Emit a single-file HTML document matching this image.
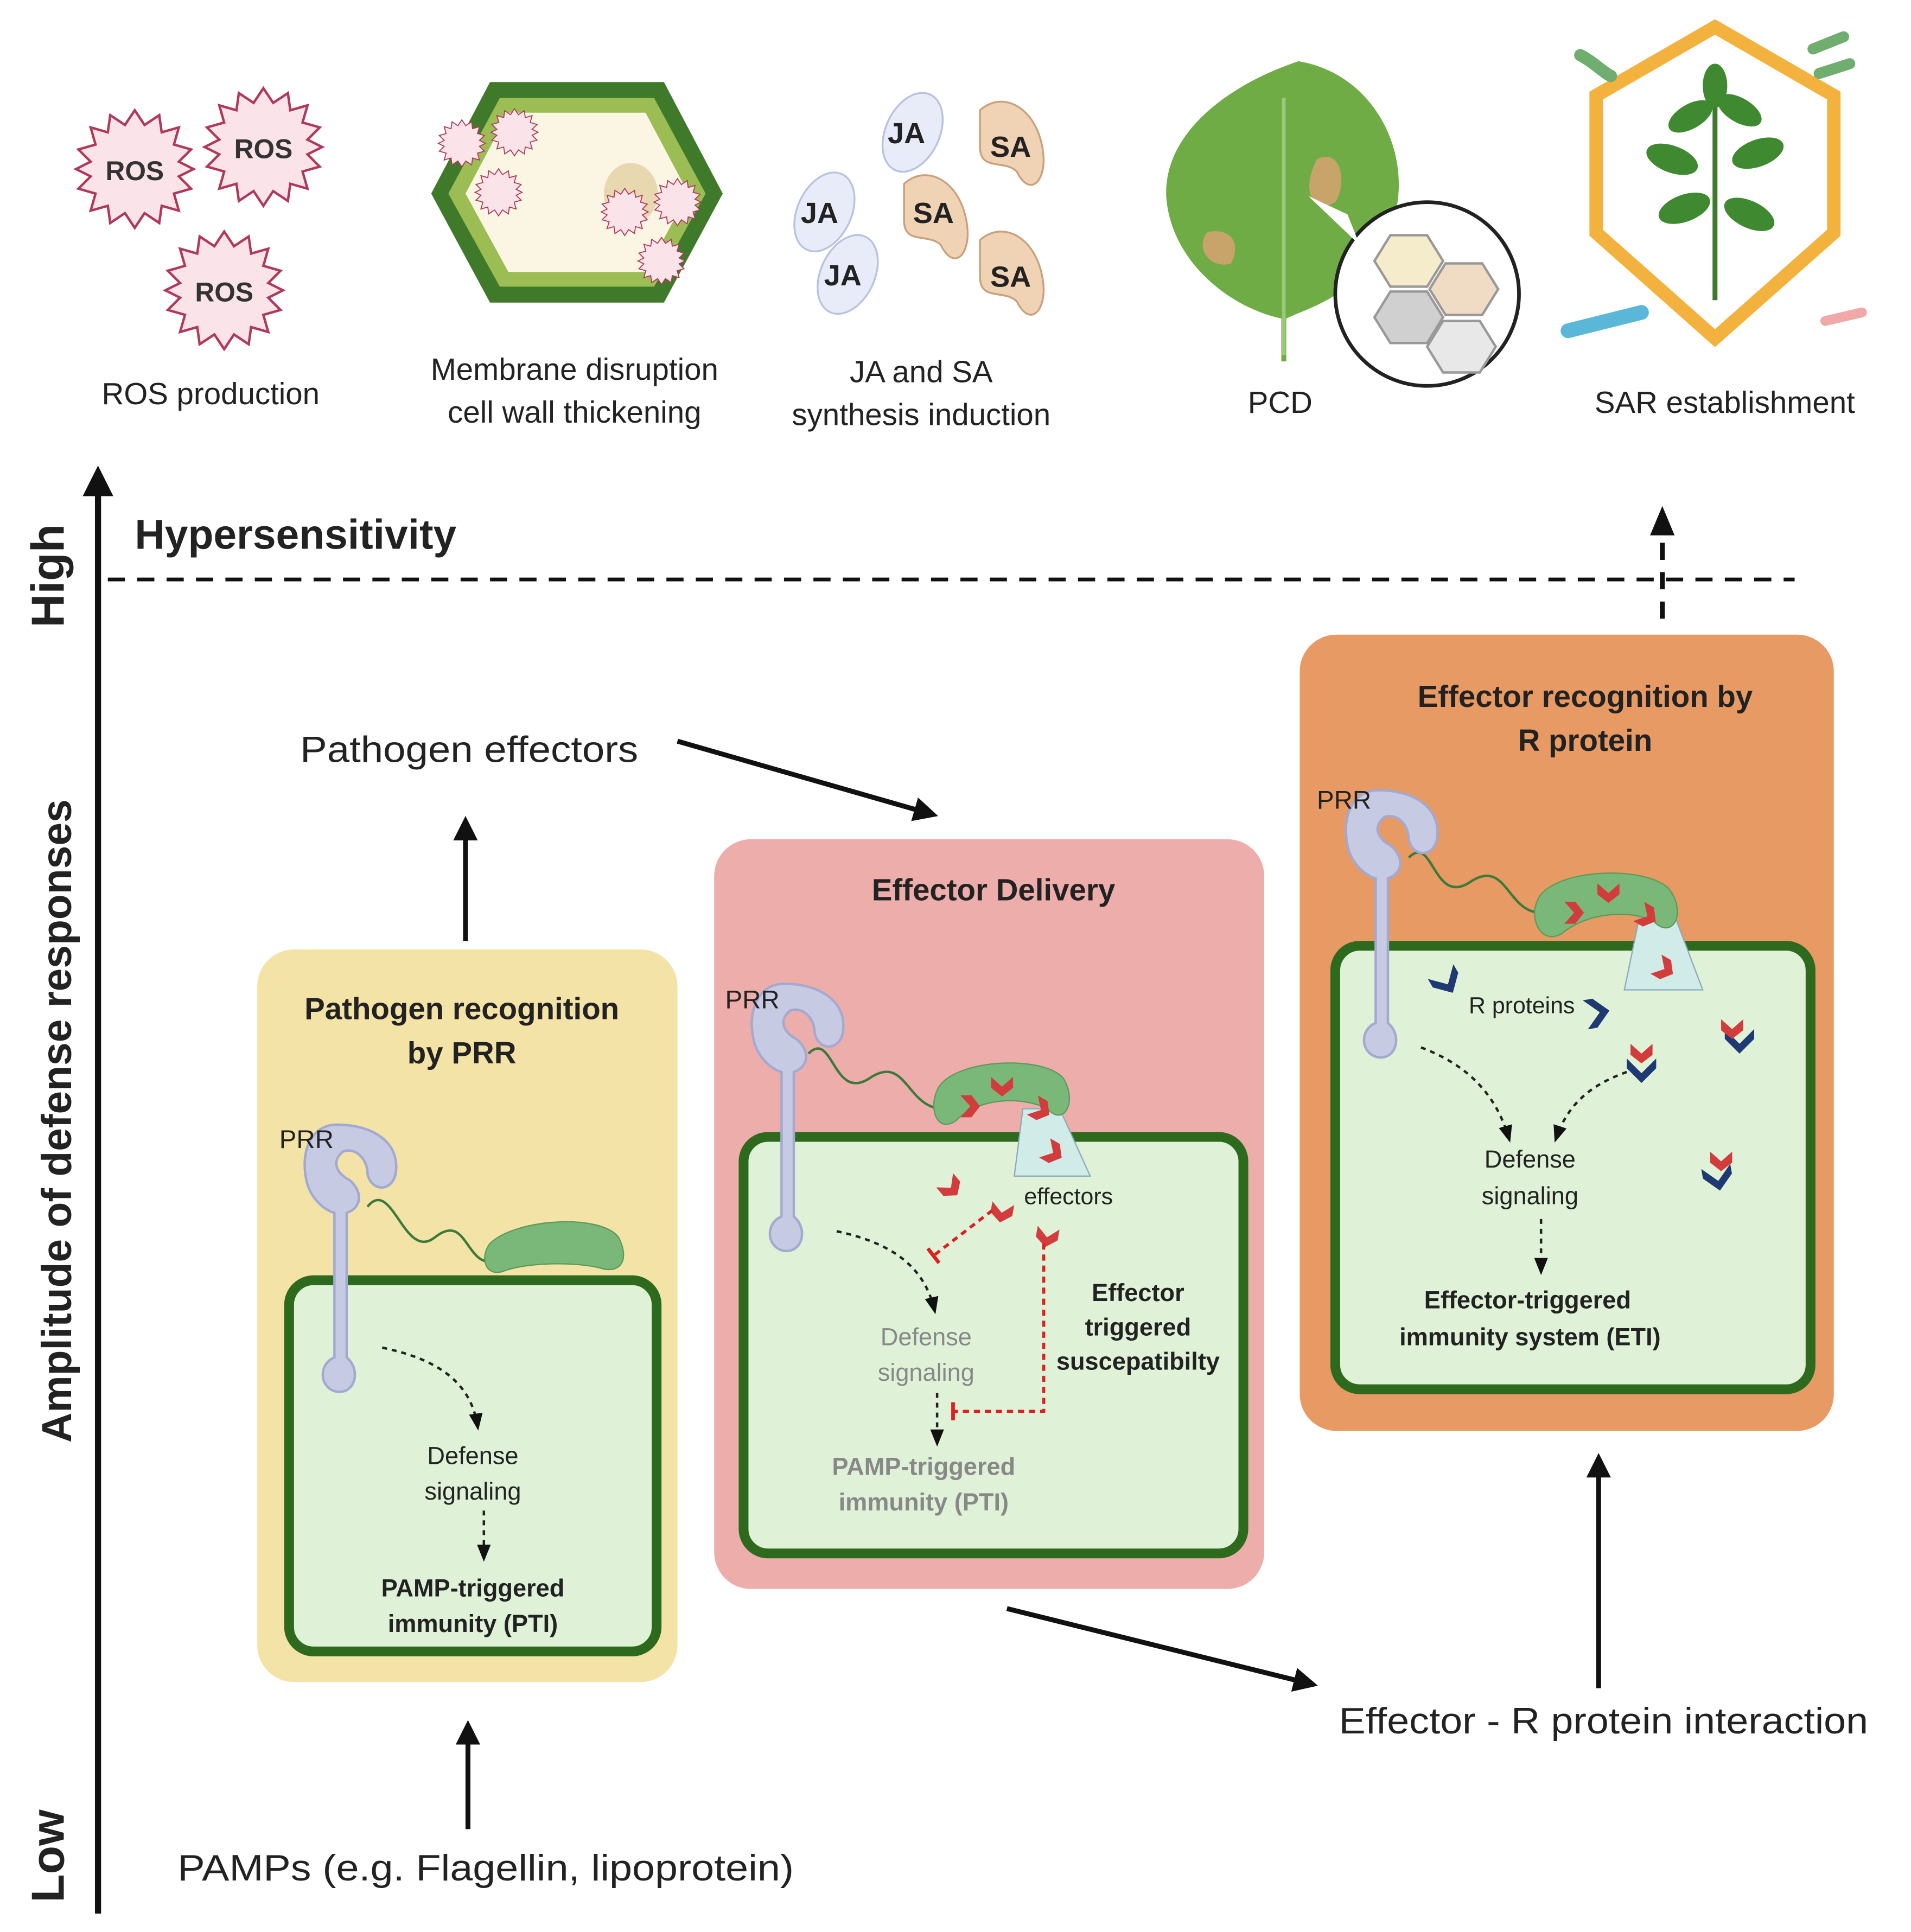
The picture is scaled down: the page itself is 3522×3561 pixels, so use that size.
<!DOCTYPE html>
<html><head><meta charset="utf-8"><style>
html,body{margin:0;padding:0;background:#fff;}
svg{display:block;}
text{font-family:"Liberation Sans",sans-serif;}
</style></head><body>
<svg width="3522" height="3561" viewBox="0 0 1560 1577" preserveAspectRatio="none" xmlns="http://www.w3.org/2000/svg">
<defs>
<marker id="ah" viewBox="0 0 10 10" refX="8" refY="5" markerWidth="5" markerHeight="5" orient="auto"><path d="M0,0 L10,5 L0,10 z" fill="#111"/></marker>
<marker id="ahs" viewBox="0 0 10 10" refX="8" refY="5" markerWidth="7" markerHeight="7" orient="auto"><path d="M0,1 L10,5 L0,9 z" fill="#111"/></marker>
<marker id="tb" viewBox="0 0 10 10" refX="5" refY="5" markerWidth="6" markerHeight="6" orient="auto"><path d="M5,0 L5,10" stroke="#e02020" stroke-width="2"/></marker>
<g id="ros"><polygon points="0,-48 8,-36 20,-44 22,-30 36,-34 32,-20 46,-16 36,-6 48,0 36,6 46,16 32,20 36,34 22,30 20,44 8,36 0,48 -8,36 -20,44 -22,30 -36,34 -32,20 -46,16 -36,6 -48,0 -36,-6 -46,-16 -32,-20 -36,-34 -22,-30 -20,-44 -8,-36" fill="#fbe3ea" stroke="#b0385a" stroke-width="2"/></g>
<g id="prr"><path d="M30,0 C10,0 0,20 5,45 C8,60 20,70 28,72 L28,190 C15,195 15,215 30,218 C45,220 50,200 38,190 L38,72 C50,68 52,55 40,45 C30,40 25,30 35,22 C45,18 55,28 55,40 C58,55 75,55 78,40 C82,15 60,0 30,0 Z" fill="#c6cae2" stroke="#a3a9cf" stroke-width="2"/></g>
<g id="chev"><path d="M-9,-6 L0,2 L9,-6 L9,3 L0,10 L-9,3 Z" fill="#d23c3c"/></g>
<g id="bchev"><path d="M-12,-8 L0,4 L12,-8 L12,0 L0,12 L-12,0 Z" fill="#1f3a73"/></g>
</defs>

<line x1="80" y1="1562" x2="80" y2="385" stroke="#111" stroke-width="5" marker-end="url(#ah)"/>
<text transform="translate(52,470) rotate(-90)" font-size="38" font-weight="bold" text-anchor="middle" fill="#222">High</text>
<text transform="translate(52,1515) rotate(-90)" font-size="38" font-weight="bold" text-anchor="middle" fill="#222">Low</text>
<text transform="translate(58,915) rotate(-90)" font-size="34" font-weight="bold" text-anchor="middle" fill="#222">Amplitude of defense responses</text>

<text x="110" y="448" font-size="34" font-weight="bold" fill="#222">Hypersensitivity</text>
<line x1="88" y1="473" x2="1465" y2="473" stroke="#111" stroke-width="3" stroke-dasharray="14,10"/>
<line x1="1357" y1="505" x2="1357" y2="425" stroke="#111" stroke-width="4" stroke-dasharray="14,10"/>
<path d="M1347,437 L1357,413 L1367,437 Z" fill="#111"/>

<g transform="translate(110,138)"><use href="#ros"/><text x="0" y="9" font-size="22" font-weight="bold" text-anchor="middle" fill="#333">ROS</text></g>
<g transform="translate(215,120)"><use href="#ros"/><text x="0" y="9" font-size="22" font-weight="bold" text-anchor="middle" fill="#333">ROS</text></g>
<g transform="translate(183,237)"><use href="#ros"/><text x="0" y="9" font-size="22" font-weight="bold" text-anchor="middle" fill="#333">ROS</text></g>
<text x="172" y="330" font-size="25" text-anchor="middle" fill="#222">ROS production</text>

<polygon points="400,67 542,67 590,158 542,247 400,247 352,158" fill="#3f7a2a"/>
<polygon points="408,80 534,80 576,158 534,234 408,234 366,158" fill="#9bbd53"/>
<polygon points="415,92 527,92 562,158 527,222 415,222 380,158" fill="#fbf6e3"/>
<ellipse cx="515" cy="158" rx="22" ry="25" fill="#e8d8b0"/>
<g transform="translate(377,117) scale(0.4)"><use href="#ros"/></g>
<g transform="translate(420,108) scale(0.4)"><use href="#ros"/></g>
<g transform="translate(407,157) scale(0.4)"><use href="#ros"/></g>
<g transform="translate(510,173) scale(0.4)"><use href="#ros"/></g>
<g transform="translate(553,165) scale(0.4)"><use href="#ros"/></g>
<g transform="translate(540,213) scale(0.4)"><use href="#ros"/></g>
<text x="469" y="310" font-size="25" text-anchor="middle" fill="#222">Membrane disruption</text>
<text x="469" y="345" font-size="25" text-anchor="middle" fill="#222">cell wall thickening</text>

<g fill="#e8ecf8" stroke="#b8c2e0" stroke-width="1.5">
<ellipse cx="745" cy="108" rx="22" ry="34" transform="rotate(25 745 108)"/>
<ellipse cx="673" cy="173" rx="22" ry="34" transform="rotate(25 673 173)"/>
<ellipse cx="692" cy="224" rx="22" ry="34" transform="rotate(25 692 224)"/>
</g>
<g fill="#f0d2b4" stroke="#c9a07a" stroke-width="1.5">
<path d="M800,90 C820,72 850,90 852,130 C852,150 840,160 830,140 C820,130 800,140 800,120 Z"/>
<path d="M738,150 C758,132 788,150 790,190 C790,210 778,220 768,200 C758,190 738,200 738,180 Z"/>
<path d="M800,196 C820,178 850,196 852,236 C852,256 840,266 830,246 C820,236 800,246 800,226 Z"/>
</g>
<g font-size="24" font-weight="bold" fill="#222" text-anchor="middle">
<text x="740" y="117">JA</text><text x="669" y="182">JA</text><text x="688" y="233">JA</text>
<text x="825" y="128">SA</text><text x="762" y="182">SA</text><text x="825" y="234">SA</text>
</g>
<text x="752" y="312" font-size="25" text-anchor="middle" fill="#222">JA and SA</text>
<text x="752" y="347" font-size="25" text-anchor="middle" fill="#222">synthesis induction</text>

<path d="M1060,50 C1120,60 1150,120 1140,170 C1120,240 1070,250 1050,260 L1050,295 L1046,295 L1046,260 C1000,250 955,210 952,160 C950,110 1000,70 1060,50 Z" fill="#6fac45"/>
<path d="M1048,80 L1048,290" stroke="#9cc87a" stroke-width="3"/>
<path d="M1075,130 C1095,120 1100,150 1090,165 C1075,175 1060,160 1075,130 Z" fill="#c8a46a"/>
<path d="M985,190 C1000,185 1015,195 1005,215 C990,220 975,205 985,190 Z" fill="#c8a46a"/>
<circle cx="1165" cy="240" r="75" fill="#fff" stroke="#222" stroke-width="3"/>
<polygon points="1068,160 1110,200 1100,175" fill="#fff"/>
<g stroke="#999" stroke-width="2">
<polygon points="1135,192 1165,192 1178,213 1165,234 1135,234 1122,213" fill="#f5eccb"/>
<polygon points="1180,215 1210,215 1223,236 1210,257 1180,257 1167,236" fill="#f0dcc4"/>
<polygon points="1135,238 1165,238 1178,259 1165,280 1135,280 1122,259" fill="#d0d0d0"/>
<polygon points="1178,262 1208,262 1221,283 1208,304 1178,304 1165,283" fill="#e8e8e8"/>
</g>
<text x="1045" y="337" font-size="25" text-anchor="middle" fill="#222">PCD</text>

<polygon points="1400,22 1497,78 1497,190 1400,276 1303,190 1303,78" fill="#fff" stroke="#f3b23e" stroke-width="11"/>
<path d="M1400,60 L1400,245" stroke="#3d7a2a" stroke-width="4"/>
<g fill="#3f8a30">
<ellipse cx="1380" cy="95" rx="20" ry="10" transform="rotate(-30 1380 95)"/>
<ellipse cx="1420" cy="90" rx="20" ry="10" transform="rotate(30 1420 90)"/>
<ellipse cx="1365" cy="130" rx="22" ry="11" transform="rotate(20 1365 130)"/>
<ellipse cx="1435" cy="125" rx="22" ry="11" transform="rotate(-20 1435 125)"/>
<ellipse cx="1375" cy="170" rx="22" ry="11" transform="rotate(-20 1375 170)"/>
<ellipse cx="1428" cy="175" rx="22" ry="11" transform="rotate(25 1428 175)"/>
<ellipse cx="1400" cy="70" rx="10" ry="18"/>
</g>
<path d="M1290,45 C1300,50 1310,60 1315,62" stroke="#6fae6f" stroke-width="10" stroke-linecap="round" fill="none"/>
<path d="M1480,40 L1505,30 M1485,60 L1510,52" stroke="#6fae6f" stroke-width="9" stroke-linecap="round"/>
<path d="M1280,270 L1340,255" stroke="#5ab7d8" stroke-width="12" stroke-linecap="round"/>
<path d="M1490,262 L1520,255" stroke="#f0a8a8" stroke-width="8" stroke-linecap="round"/>
<text x="1408" y="337" font-size="25" text-anchor="middle" fill="#222">SAR establishment</text>

<!-- Yellow box -->
<rect x="210" y="775" width="343" height="598" rx="30" fill="#f3e3a7"/>
<text x="377" y="832" font-size="25" font-weight="bold" text-anchor="middle" fill="#222">Pathogen recognition</text>
<text x="377" y="868" font-size="25" font-weight="bold" text-anchor="middle" fill="#222">by PRR</text>
<rect x="236" y="1045" width="300" height="303" rx="20" fill="#dff2d8" stroke="#2e6a1e" stroke-width="8"/>
<path d="M300,985 C320,960 330,1030 355,1010 C380,990 380,1030 400,1030" stroke="#3b7a3b" stroke-width="2" fill="none"/>
<path d="M400,1015 C420,995 490,990 505,1010 C515,1030 505,1040 490,1035 C470,1030 430,1030 410,1038 C395,1042 392,1025 400,1015 Z" fill="#7ab87a" stroke="#5a9a5a"/>
<g transform="translate(245,918)"><use href="#prr"/></g>
<text x="228" y="937" font-size="21" fill="#222">PRR</text>
<path d="M312,1100 C360,1110 385,1130 390,1165" stroke="#222" stroke-width="2" stroke-dasharray="4,4" fill="none" marker-end="url(#ahs)"/>
<text x="386" y="1195" font-size="20" text-anchor="middle" fill="#222">Defense</text>
<text x="386" y="1224" font-size="20" text-anchor="middle" fill="#222">signaling</text>
<line x1="395" y1="1233" x2="395" y2="1272" stroke="#222" stroke-width="2" stroke-dasharray="4,4" marker-end="url(#ahs)"/>
<text x="386" y="1303" font-size="20" font-weight="bold" text-anchor="middle" fill="#222">PAMP-triggered</text>
<text x="386" y="1332" font-size="20" font-weight="bold" text-anchor="middle" fill="#222">immunity (PTI)</text>

<!-- Pink box -->
<rect x="583" y="685" width="449" height="612" rx="30" fill="#edadab"/>
<text x="811" y="735" font-size="25" font-weight="bold" text-anchor="middle" fill="#222">Effector Delivery</text>
<rect x="607" y="928" width="408" height="340" rx="20" fill="#dff2d8" stroke="#2e6a1e" stroke-width="8"/>
<path d="M660,860 C680,840 680,900 710,880 C740,860 740,905 770,905" stroke="#3b7a3b" stroke-width="2" fill="none"/>
<polygon points="835,905 865,905 890,960 828,960" fill="#d0ebe8" stroke="#8ab"/>
<path d="M765,890 C775,865 850,860 868,880 C880,900 868,920 855,905 C835,895 800,895 780,915 C765,925 758,905 765,890 Z" fill="#7ab87a" stroke="#5a9a5a"/>
<g transform="translate(610,803)"><use href="#prr"/></g>
<text x="592" y="823" font-size="21" fill="#222">PRR</text>
<g transform="translate(818,885)"><use href="#chev"/></g>
<g transform="translate(790,903) rotate(-90)"><use href="#chev"/></g>
<g transform="translate(848,905) rotate(-60)"><use href="#chev"/></g>
<g transform="translate(858,940) rotate(-60)"><use href="#chev"/></g>
<g transform="translate(775,968) rotate(-40)"><use href="#chev"/></g>
<g transform="translate(818,988) rotate(10)"><use href="#chev"/></g>
<g transform="translate(855,1008) rotate(10)"><use href="#chev"/></g>
<text x="836" y="983" font-size="19" fill="#222">effectors</text>
<path d="M683,1005 C730,1015 755,1035 763,1070" stroke="#222" stroke-width="2" stroke-dasharray="4,4" fill="none" marker-end="url(#ahs)"/>
<line x1="810" y1="988" x2="762" y2="1025" stroke="#e02020" stroke-width="2.5" stroke-dasharray="5,4" marker-end="url(#tb)"/>
<path d="M852,1015 L852,1152 L778,1152" stroke="#e02020" stroke-width="2.5" stroke-dasharray="5,4" fill="none" marker-end="url(#tb)"/>
<text x="756" y="1098" font-size="20" text-anchor="middle" fill="#888">Defense</text>
<text x="756" y="1127" font-size="20" text-anchor="middle" fill="#888">signaling</text>
<line x1="765" y1="1137" x2="765" y2="1178" stroke="#222" stroke-width="2" stroke-dasharray="4,4" marker-end="url(#ahs)"/>
<text x="754" y="1204" font-size="20" font-weight="bold" text-anchor="middle" fill="#888">PAMP-triggered</text>
<text x="754" y="1233" font-size="20" font-weight="bold" text-anchor="middle" fill="#888">immunity (PTI)</text>
<text x="929" y="1062" font-size="20" font-weight="bold" text-anchor="middle" fill="#222">Effector</text>
<text x="929" y="1090" font-size="20" font-weight="bold" text-anchor="middle" fill="#222">triggered</text>
<text x="929" y="1118" font-size="20" font-weight="bold" text-anchor="middle" fill="#222">suscepatibilty</text>

<!-- Orange box -->
<rect x="1061" y="518" width="436" height="650" rx="30" fill="#e79a63"/>
<text x="1294" y="577" font-size="25" font-weight="bold" text-anchor="middle" fill="#222">Effector recognition by</text>
<text x="1294" y="613" font-size="25" font-weight="bold" text-anchor="middle" fill="#222">R protein</text>
<rect x="1090" y="772" width="388" height="362" rx="20" fill="#dff2d8" stroke="#2e6a1e" stroke-width="8"/>
<path d="M1150,700 C1170,680 1170,740 1200,720 C1230,700 1230,745 1258,745" stroke="#3b7a3b" stroke-width="2" fill="none"/>
<polygon points="1338,750 1368,750 1390,808 1326,808" fill="#d0ebe8" stroke="#8ab"/>
<path d="M1255,735 C1265,710 1340,705 1362,725 C1378,745 1365,768 1350,752 C1330,742 1295,745 1275,762 C1258,772 1248,750 1255,735 Z" fill="#7ab87a" stroke="#5a9a5a"/>
<g transform="translate(1095,645)"><use href="#prr"/></g>
<text x="1075" y="660" font-size="21" fill="#222">PRR</text>
<g transform="translate(1313,727)"><use href="#chev"/></g>
<g transform="translate(1283,745) rotate(-90)"><use href="#chev"/></g>
<g transform="translate(1343,747) rotate(-60)"><use href="#chev"/></g>
<g transform="translate(1357,790) rotate(-60)"><use href="#chev"/></g>
<g transform="translate(1180,800) rotate(-30)"><use href="#bchev"/></g>
<g transform="translate(1302,827) rotate(-100)"><use href="#bchev"/></g>
<g transform="translate(1340,872)"><use href="#bchev"/></g><g transform="translate(1340,858)"><use href="#chev"/></g>
<g transform="translate(1420,848)"><use href="#bchev"/></g><g transform="translate(1414,838)"><use href="#chev"/></g>
<g transform="translate(1402,960) rotate(-10)"><use href="#bchev"/></g><g transform="translate(1405,946)"><use href="#chev"/></g>
<text x="1199" y="827" font-size="19" fill="#222">R proteins</text>
<path d="M1160,855 C1200,870 1222,895 1232,930" stroke="#222" stroke-width="2" stroke-dasharray="4,4" fill="none" marker-end="url(#ahs)"/>
<path d="M1328,875 C1300,885 1280,900 1270,930" stroke="#222" stroke-width="2" stroke-dasharray="4,4" fill="none" marker-end="url(#ahs)"/>
<text x="1249" y="953" font-size="20" text-anchor="middle" fill="#222">Defense</text>
<text x="1249" y="983" font-size="20" text-anchor="middle" fill="#222">signaling</text>
<line x1="1258" y1="995" x2="1258" y2="1038" stroke="#222" stroke-width="2" stroke-dasharray="4,4" marker-end="url(#ahs)"/>
<text x="1247" y="1068" font-size="20" font-weight="bold" text-anchor="middle" fill="#222">Effector-triggered</text>
<text x="1249" y="1098" font-size="20" font-weight="bold" text-anchor="middle" fill="#222">immunity system (ETI)</text>

<line x1="380" y1="768" x2="380" y2="670" stroke="#111" stroke-width="4" marker-end="url(#ah)"/>
<text x="245" y="622" font-size="30" fill="#222" textLength="276" lengthAdjust="spacingAndGlyphs">Pathogen effectors</text>
<line x1="553" y1="605" x2="762" y2="665" stroke="#111" stroke-width="4" marker-end="url(#ah)"/>
<line x1="822" y1="1313" x2="1072" y2="1375" stroke="#111" stroke-width="4" marker-end="url(#ah)"/>
<text x="1093" y="1415" font-size="30" fill="#222" textLength="432" lengthAdjust="spacingAndGlyphs">Effector - R protein interaction</text>
<line x1="1305" y1="1378" x2="1305" y2="1190" stroke="#111" stroke-width="4" marker-end="url(#ah)"/>
<line x1="382" y1="1493" x2="382" y2="1408" stroke="#111" stroke-width="4" marker-end="url(#ah)"/>
<text x="145" y="1535" font-size="30" fill="#222" textLength="503" lengthAdjust="spacingAndGlyphs">PAMPs (e.g.  Flagellin,  lipoprotein)</text>
</svg>
</body></html>
